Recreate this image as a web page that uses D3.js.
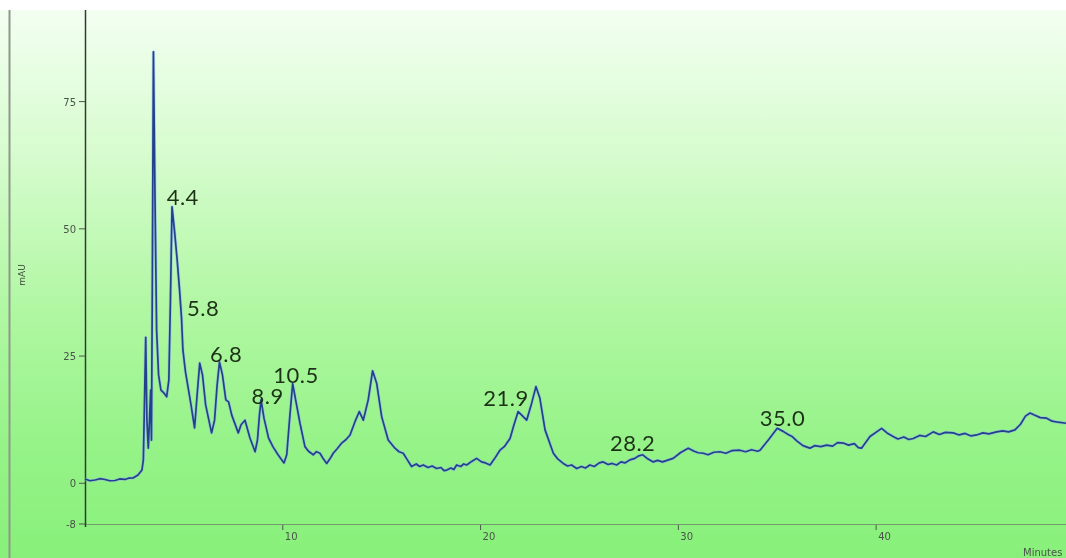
<!DOCTYPE html>
<html>
<head>
<meta charset="utf-8">
<script src="https://cdn.jsdelivr.net/npm/d3@7"></script>
<style>
  html, body { margin: 0; padding: 0; background: #ffffff; }
  svg { display: block; }
</style>
</head>
<body>
<svg id="chart" width="1066" height="558"></svg>
<script>
// Retention time (minutes) of each sampled point of the trace
const times = [
  0, 0.25, 0.51, 0.75, 1.01, 1.25, 1.52, 1.75, 2.02, 2.20, 2.43, 2.68, 2.88, 2.95, 3.01, 3.07,
  3.13, 3.20, 3.26, 3.32, 3.36, 3.40, 3.46, 3.54, 3.62, 3.72, 3.84, 4.00, 4.13, 4.24, 4.32,
  4.40, 4.52, 4.66, 4.78, 4.88, 4.95, 5.08, 5.21, 5.36, 5.54, 5.67, 5.80, 5.94, 6.10, 6.40,
  6.55, 6.68, 6.80, 6.95, 7.12, 7.26, 7.42, 7.75, 7.89, 8.09, 8.34, 8.60, 8.72, 8.82, 8.90,
  9.05, 9.28, 9.50, 9.76, 10.06, 10.20, 10.34, 10.50, 10.65, 10.87, 11.12, 11.30, 11.54,
  11.70, 11.88, 12.05, 12.22, 12.40, 12.55, 12.75, 12.98, 13.20, 13.40, 13.65, 13.87, 14.07,
  14.32, 14.54, 14.75, 15.00, 15.33, 15.67, 15.88, 16.09, 16.30, 16.51, 16.75, 16.92, 17.10,
  17.35, 17.55, 17.78, 18.00, 18.15, 18.29, 18.50, 18.65, 18.79, 19.00, 19.15, 19.30, 19.55,
  19.80, 20.05, 20.25, 20.48, 20.70, 20.98, 21.20, 21.49, 21.69, 21.90, 22.08, 22.33, 22.58,
  22.80, 23.00, 23.26, 23.68, 23.90, 24.18, 24.40, 24.60, 24.86, 25.10, 25.30, 25.53, 25.75,
  26.00, 26.20, 26.45, 26.65, 26.88, 27.10, 27.30, 27.55, 27.80, 28.00, 28.20, 28.45, 28.73,
  28.95, 29.20, 29.50, 29.74, 30.10, 30.50, 30.80, 31.00, 31.26, 31.50, 31.80, 32.10, 32.40,
  32.70, 33.11, 33.40, 33.70, 34.00, 34.13, 34.55, 35.00, 35.30, 35.55, 35.75, 36.00, 36.30,
  36.65, 36.90, 37.20, 37.50, 37.80, 38.05, 38.34, 38.60, 38.90, 39.10, 39.26, 39.69, 40.28,
  40.55, 40.86, 41.10, 41.40, 41.65, 41.88, 42.20, 42.50, 42.89, 43.20, 43.50, 43.90, 44.20,
  44.50, 44.80, 45.08, 45.40, 45.70, 46.09, 46.40, 46.70, 47.02, 47.30, 47.55, 47.78, 48.00,
  48.30, 48.62, 48.90, 49.20, 49.60
];

// Detector response (mAU) at each retention time
const absorbance = [
  0.85, 0.50, 0.65, 0.90, 0.75, 0.50, 0.55, 0.85, 0.75, 1.00, 1.04, 1.63, 2.61, 4.58, 16.4, 28.7,
  12.4, 6.9, 12.4, 18.3, 8.5, 36.0, 84.8, 55.7, 30.1, 21.3, 18.3, 17.7, 17.0, 20.3, 36.0,
  54.3, 49.8, 43.9, 38.0, 32.5, 26.2, 21.9, 18.9, 15.4, 10.9, 17.4, 23.6, 21.3, 15.4, 9.9,
  12.4, 19.3, 23.8, 21.3, 16.4, 16.0, 13.4, 9.9, 11.5, 12.4, 8.9, 6.2, 8.5, 13.4, 16.4,
  12.8, 8.9, 7.2, 5.6, 4.0, 5.6, 12.4, 19.6, 16.4, 11.8, 7.2, 6.3, 5.6,
  6.2, 5.9, 4.8, 3.9, 4.9, 5.9, 6.8, 7.9, 8.6, 9.5, 12.1, 14.1, 12.4,
  16.4, 22.1, 19.6, 13.1, 8.5, 6.9, 6.2, 5.9, 4.6, 3.3, 3.8, 3.3, 3.6,
  3.1, 3.4, 2.9, 3.1, 2.5, 2.6, 3.0, 2.7, 3.6, 3.3, 3.8, 3.6, 4.3,
  4.9, 4.2, 4.0, 3.6, 4.8, 6.5, 7.2, 8.8, 11.5, 14.1, 13.4, 12.4, 15.7,
  19.0, 16.7, 10.5, 5.9, 4.8, 3.9, 3.4, 3.6, 2.9, 3.3, 3.0, 3.6, 3.3,
  4.0, 4.2, 3.7, 3.9, 3.6, 4.2, 4.0, 4.6, 4.9, 5.4, 5.6, 4.8, 4.2,
  4.5, 4.2, 4.6, 4.9, 6.0, 6.9, 6.3, 6.0, 5.9, 5.6, 6.1, 6.2, 5.9,
  6.4, 6.5, 6.2, 6.6, 6.3, 6.5, 8.5, 10.8, 10.2, 9.6, 9.2, 8.3, 7.4,
  6.9, 7.4, 7.2, 7.5, 7.3, 8.0, 7.9, 7.5, 7.8, 7.0, 6.9, 9.2, 10.8,
  9.9, 9.2, 8.7, 9.1, 8.6, 8.8, 9.4, 9.2, 10.1, 9.6, 10.0, 9.9, 9.5,
  9.8, 9.3, 9.5, 9.9, 9.7, 10.1, 10.3, 10.1, 10.5, 11.6, 13.2, 13.8, 13.4,
  12.9, 12.8, 12.2, 12.0, 11.8
];

// Axis ticks
const xTicks = [10, 20, 30, 40];
const yTicks = [-8, 0, 25, 50, 75];

// Peak annotations: text, and where its left baseline sits (minutes, mAU)
const peakLabels = ["4.4", "5.8", "6.8", "8.9", "10.5", "21.9", "28.2", "35.0"];
const labelTimes = [4.13, 5.16, 6.32, 8.42, 9.52, 20.14, 26.54, 34.12];
const labelLevels = [54.7, 32.9, 23.8, 15.6, 19.7, 15.2, 6.4, 11.3];

const W = 1066, H = 558;
const svg = d3.select("#chart");

const x = d3.scaleLinear().domain([0, 49.6]).range([85, 1066]);
const y = d3.scaleLinear().domain([-8, 93]).range([524, 10]);

// Background gradient
const defs = svg.append("defs");
const grad = defs.append("linearGradient")
  .attr("id", "bg").attr("x1", 0).attr("y1", 0).attr("x2", 0).attr("y2", 1);
grad.append("stop").attr("offset", "0%").attr("stop-color", "#f3fff1");
grad.append("stop").attr("offset", "25%").attr("stop-color", "#d8fcd0");
grad.append("stop").attr("offset", "55%").attr("stop-color", "#b0f7a2");
grad.append("stop").attr("offset", "80%").attr("stop-color", "#95f387");
grad.append("stop").attr("offset", "100%").attr("stop-color", "#88f07a");

defs.append("filter").attr("id", "soft")
  .append("feGaussianBlur").attr("stdDeviation", 0.45);

svg.append("rect").attr("width", W).attr("height", H).attr("fill", "#ffffff");
svg.append("rect").attr("x", 0).attr("y", 10).attr("width", W).attr("height", H - 10)
  .attr("fill", "url(#bg)");

// Left frame line
svg.append("line")
  .attr("x1", 9.5).attr("x2", 9.5).attr("y1", 10).attr("y2", H)
  .attr("stroke", "#8f978c").attr("stroke-width", 2);

// X axis
const xAxis = svg.append("g").attr("filter", "url(#soft)");
xAxis.append("line")
  .attr("x1", x(0)).attr("x2", W).attr("y1", 524.5).attr("y2", 524.5)
  .attr("stroke", "#6f9a68").attr("stroke-width", 1);
const xt = xAxis.selectAll("g.xt").data(xTicks).enter().append("g").attr("class", "xt");
xt.append("line")
  .attr("x1", d => x(d)).attr("x2", d => x(d))
  .attr("y1", 525).attr("y2", 530)
  .attr("stroke", "#4a5a48").attr("stroke-width", 1);
xt.append("text")
  .attr("x", d => x(d) + 2).attr("y", 540)
  .attr("font-family", "DejaVu Sans, sans-serif").attr("font-size", 10)
  .attr("fill", "#4a544a")
  .text(d => d);

// Y axis
const yAxis = svg.append("g").attr("filter", "url(#soft)");
yAxis.append("line")
  .attr("x1", 85.5).attr("x2", 85.5).attr("y1", 10).attr("y2", 527)
  .attr("stroke", "#2f3a2e").attr("stroke-width", 1.5);
const yt = yAxis.selectAll("g.yt").data(yTicks).enter().append("g").attr("class", "yt");
yt.append("line")
  .attr("x1", 79).attr("x2", 85)
  .attr("y1", d => y(d)).attr("y2", d => y(d))
  .attr("stroke", "#4a5a48").attr("stroke-width", 1);
yt.append("text")
  .attr("x", 76).attr("y", d => y(d) + 4)
  .attr("text-anchor", "end")
  .attr("font-family", "DejaVu Sans, sans-serif").attr("font-size", 10)
  .attr("fill", "#4a544a")
  .text(d => d);

// Axis titles
svg.append("text")
  .attr("transform", "translate(25,275) rotate(-90)")
  .attr("text-anchor", "middle")
  .attr("font-family", "DejaVu Sans, sans-serif").attr("font-size", 9)
  .attr("fill", "#3f4a3e").attr("filter", "url(#soft)")
  .text("mAU");
svg.append("text")
  .attr("x", 1023).attr("y", 556)
  .attr("font-family", "DejaVu Sans, sans-serif").attr("font-size", 10)
  .attr("fill", "#4a544a").attr("filter", "url(#soft)")
  .text("Minutes");

// Chromatogram trace: light halo under a dark navy line
const pts = times.map((t, i) => [t, absorbance[i]]);
const line = d3.line().x(d => x(d[0])).y(d => y(d[1])).curve(d3.curveLinear);

svg.append("path")
  .datum(pts)
  .attr("d", line)
  .attr("fill", "none")
  .attr("stroke", "#8fb2ef")
  .attr("stroke-width", 3.2)
  .attr("stroke-opacity", 0.55)
  .attr("stroke-linejoin", "round");
svg.append("path")
  .datum(pts)
  .attr("d", line)
  .attr("fill", "none")
  .attr("stroke", "#22408e")
  .attr("stroke-width", 1.7)
  .attr("stroke-linejoin", "round")
  .attr("filter", "url(#soft)");

// Peak retention-time labels
svg.append("g").selectAll("text").data(peakLabels).enter().append("text")
  .attr("x", (d, i) => x(labelTimes[i]))
  .attr("y", (d, i) => y(labelLevels[i]))
  .attr("font-family", "Lato, 'Open Sans', sans-serif")
  .attr("font-size", 22)
  .attr("letter-spacing", 0.5)
  .attr("fill", "#1f3318")
  .attr("filter", "url(#soft)")
  .text(d => d);
</script>
</body>
</html>
